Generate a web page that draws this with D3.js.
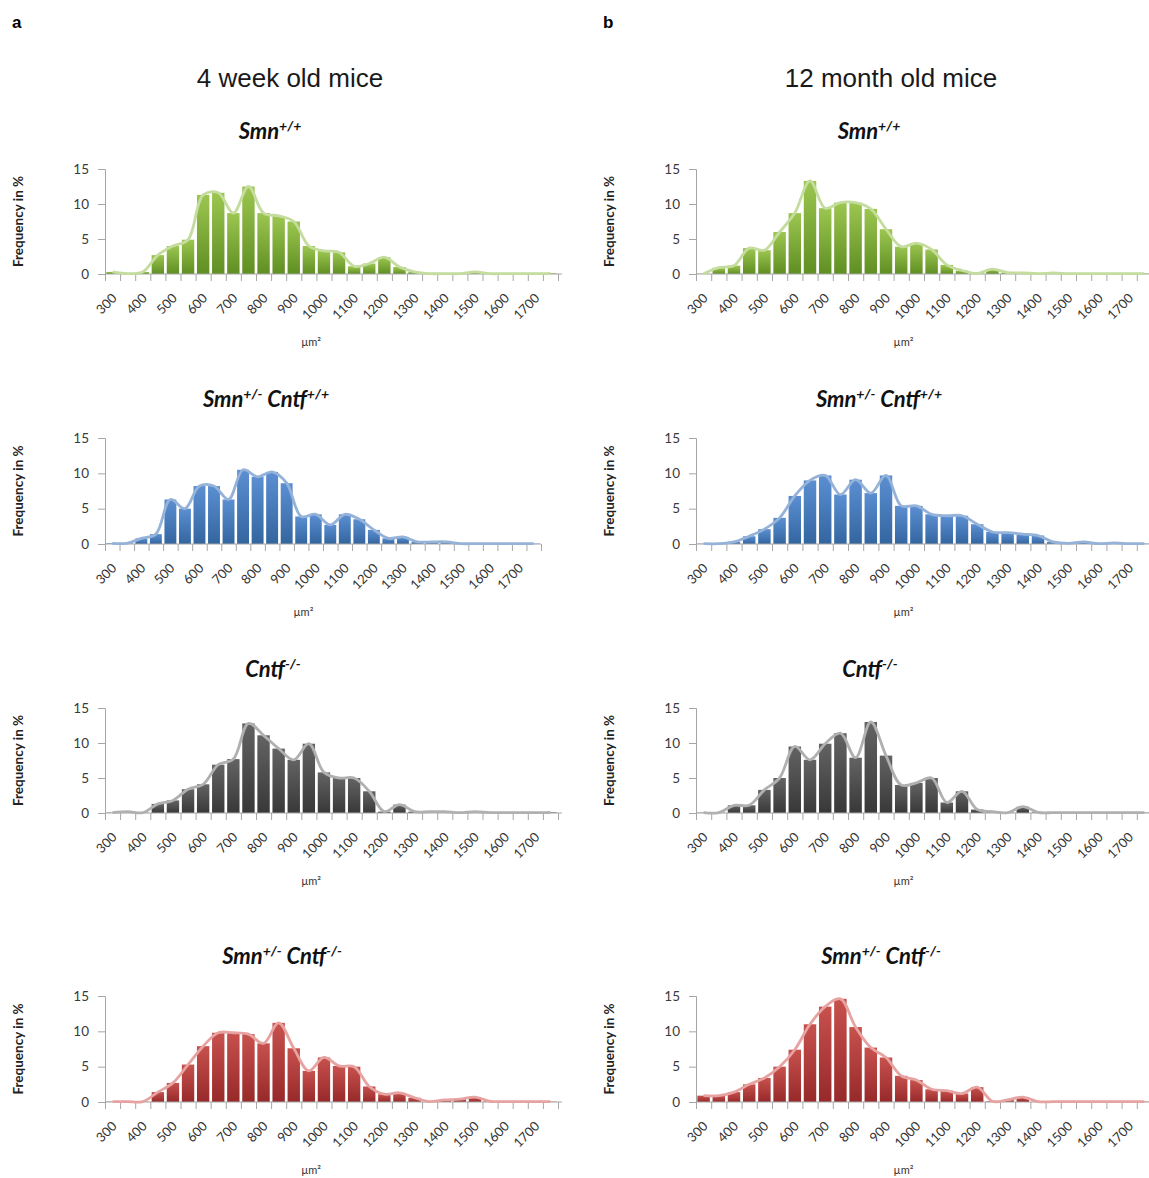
<!DOCTYPE html>
<html>
<head>
<meta charset="utf-8">
<script src="https://cdn.jsdelivr.net/npm/d3@7/dist/d3.min.js"></script>
<style>
  body { margin: 0; background: #fff; }
  text { font-family: Lato, "Open Sans", sans-serif; }
</style>
</head>
<body>
<div id="chart"></div>
<script>

// bin start (µm²), one bar per bin
const bins = ["300","350","400","450","500","550","600","650","700","750",
              "800","850","900","950","1000","1050","1100","1150","1200","1250",
              "1300","1350","1400","1450","1500","1550","1600","1650","1700","1750"];
const tickLabels = ["300","400","500","600","700","800","900","1000",
                    "1100","1200","1300","1400","1500","1600","1700"];
const yTicks = [0, 5, 10, 15];

// frequency in % per bin
const wk4SmnWt   = [0.3,0.05,0.3,2.7,4.0,4.9,11.3,11.6,8.7,12.5,8.7,8.3,7.5,4.0,3.3,3.1,1.1,1.5,2.4,1.0,0.3,0.05,0.05,0.05,0.3,0.05,0.05,0.05,0.05,0.1];
const wk4SmnHet  = [0.1,0.1,0.8,1.4,6.3,5.0,8.2,8.2,6.3,10.5,9.5,10.2,8.6,3.9,4.2,2.7,4.2,3.5,2.0,0.8,1.0,0.3,0.3,0.3,0.05,0.05,0.05,0.05,0.05,0.05];
const wk4CntfKo  = [0.05,0.2,0.05,1.3,1.8,3.4,4.1,6.9,7.7,12.8,11.1,9.2,7.6,9.9,5.8,5.0,5.0,3.1,0.2,1.2,0.2,0.2,0.2,0.05,0.2,0.05,0.05,0.05,0.05,0.1];
const wk4Double  = [0.05,0.05,0.05,1.4,2.7,5.3,7.9,9.8,9.8,9.6,8.3,11.2,7.6,4.4,6.3,5.1,5.0,2.2,1.1,1.3,0.6,0.05,0.3,0.4,0.7,0.1,0.05,0.05,0.05,0.05];
const mo12SmnWt  = [0.05,0.9,1.2,3.7,3.4,6.0,8.7,13.3,9.4,10.2,10.2,9.3,6.4,3.9,4.4,3.5,1.3,0.5,0.1,0.7,0.2,0.15,0.05,0.15,0.05,0.05,0.05,0.05,0.05,0.05];
const mo12SmnHet = [0.05,0.05,0.3,1.1,2.1,3.7,6.8,9.0,9.7,7.0,9.1,7.2,9.7,5.4,5.4,4.2,4.0,4.0,2.8,1.7,1.6,1.4,1.2,0.3,0.1,0.3,0.05,0.15,0.05,0.05];
const mo12CntfKo = [0.05,0.05,1.1,1.1,3.3,5.0,9.5,7.6,9.9,11.4,7.9,13.0,8.2,4.0,4.3,5.0,1.5,3.1,0.5,0.2,0.05,0.9,0.1,0.05,0.05,0.05,0.05,0.05,0.05,0.05];
const mo12Double = [0.9,0.9,1.4,2.5,3.4,5.0,7.4,11.0,13.5,14.6,10.6,7.7,6.3,3.7,3.1,1.8,1.6,1.2,2.1,0.1,0.3,0.7,0.05,0.05,0.05,0.05,0.05,0.05,0.05,0.05];

const palettes = {
    green: { top: "#9cc650", bottom: "#5f8e22", line: "#c4dc9e" },
    blue:  { top: "#5b8fd2", bottom: "#33659f", line: "#95b2d8" },
    gray:  { top: "#636363", bottom: "#383838", line: "#b0b0b0" },
    red:   { top: "#c7514d", bottom: "#97292a", line: "#e6a3a1" }
};


class HistChart {

    constructor(_svg, _data, _opts) {
        this.svg = _svg;
        this.data = _data;
        this.opts = _opts;

        this.initVis();
    }

    initVis() {
        var vis = this;
        var o = vis.opts;

        vis.width = o.w;
        vis.height = o.bottom - o.top;

        vis.g = vis.svg.append("g")
            .attr("transform", "translate(" + o.left + "," + o.top + ")");

        // gradient for the bars
        vis.gradId = "grad-" + o.id;
        var grad = vis.svg.select("defs").append("linearGradient")
            .attr("id", vis.gradId)
            .attr("x1", 0).attr("y1", 0).attr("x2", 0).attr("y2", 1);
        grad.append("stop").attr("offset", "0%").attr("stop-color", o.pal.top);
        grad.append("stop").attr("offset", "100%").attr("stop-color", o.pal.bottom);

        // scales
        vis.x = d3.scaleBand()
            .domain(bins)
            .range([0, vis.width])
            .paddingInner(0.18)
            .paddingOuter(0.09);

        vis.xEdge = d3.scaleLinear()
            .domain([0, bins.length])
            .range([0, vis.width]);

        vis.y = d3.scaleLinear()
            .domain([0, 15])
            .range([vis.height, 0]);

        // title
        var t = vis.svg.append("text")
            .attr("x", o.titleX)
            .attr("y", o.titleY)
            .attr("text-anchor", "middle")
            .style("font-size", "22px")
            .style("font-weight", "bold")
            .style("font-style", "italic")
            .attr("fill", "#111");
        o.title.forEach(function(part) {
            t.append("tspan").text(part[0]);
            t.append("tspan")
                .attr("dy", -8)
                .style("font-size", "14px")
                .text(part[1]);
            t.append("tspan").attr("dy", 8).text(part[2] || "");
        });

        // y label
        vis.svg.append("text")
            .attr("transform", "translate(" + (o.left - 82) + "," + (o.top + vis.height / 2) + ") rotate(-90)")
            .attr("text-anchor", "middle")
            .style("font-size", "13.5px")
            .style("font-weight", "bold")
            .attr("fill", "#222")
            .text("Frequency in %");

        // x label
        vis.svg.append("text")
            .attr("x", o.left + o.w * 0.455)
            .attr("y", o.bottom + 72)
            .attr("text-anchor", "middle")
            .style("font-size", "11px")
            .attr("fill", "#333")
            .text("µm²");

        vis.wrangleData();
    }

    wrangleData() {
        var vis = this;
        vis.displayData = bins.map(function(b, i) {
            return { bin: b, value: vis.data[i] };
        });
        vis.updateVis();
    }

    updateVis() {
        var vis = this;
        var o = vis.opts;

        vis.g.selectAll(".bar")
            .data(vis.displayData)
            .enter().append("rect")
            .attr("class", "bar")
            .attr("x", d => vis.x(d.bin))
            .attr("width", vis.x.bandwidth())
            .attr("y", d => vis.y(d.value))
            .attr("height", d => vis.height - vis.y(d.value))
            .attr("fill", "url(#" + vis.gradId + ")");

        // axes
        var yAxis = d3.axisLeft(vis.y)
            .tickValues(yTicks)
            .tickSize(7)
            .tickPadding(9);
        var yg = vis.g.append("g").attr("class", "y-axis").call(yAxis);
        yg.selectAll("path, line").attr("stroke", "#a6a6a6");
        yg.selectAll("text")
            .style("font-size", "13.5px")
            .attr("font-family", null)
            .attr("fill", "#3a3a3a");

        var edges = d3.axisBottom(vis.xEdge)
            .tickValues(d3.range(0, bins.length + 1))
            .tickSize(7)
            .tickFormat("");
        var eg = vis.g.append("g")
            .attr("transform", "translate(0," + vis.height + ")")
            .call(edges);
        eg.selectAll("path, line").attr("stroke", "#a6a6a6");
        eg.select("path").attr("d", "M0,0H" + (vis.width + o.extra));

        var xAxis = d3.axisBottom(vis.x)
            .tickValues(tickLabels)
            .tickSize(0);
        var xg = vis.g.append("g")
            .attr("transform", "translate(0," + vis.height + ")")
            .call(xAxis);
        xg.select(".domain").remove();
        xg.selectAll("text")
            .attr("y", 0)
            .attr("dy", 0)
            .attr("font-family", null)
            .style("font-size", "13px")
            .attr("fill", "#333")
            .attr("text-anchor", "end")
            .attr("transform", "translate(5,25) rotate(-45)");

        // smoothed overlay line
        var line = d3.line()
            .x(d => vis.x(d.bin) + vis.x.bandwidth() / 2)
            .y(d => vis.y(d.value))
            .curve(d3.curveCatmullRom);

        vis.g.append("path")
            .datum(vis.displayData)
            .attr("d", line)
            .attr("fill", "none")
            .attr("stroke", o.pal.line)
            .attr("stroke-width", 2.8);
    }
}


var svg = d3.select("#chart").append("svg")
    .attr("width", 1149)
    .attr("height", 1178);
svg.append("defs");

svg.append("text").attr("x", 12).attr("y", 28).text("a")
    .style("font-size", "17px").style("font-weight", "bold").style("font-family", "Liberation Sans");
svg.append("text").attr("x", 603).attr("y", 28).text("b")
    .style("font-size", "17px").style("font-weight", "bold").style("font-family", "Liberation Sans");

svg.append("text").attr("x", 290).attr("y", 87).attr("text-anchor", "middle")
    .style("font-size", "26px").style("font-family", "Liberation Sans").attr("fill", "#1a1a1a")
    .text("4 week old mice");
svg.append("text").attr("x", 891).attr("y", 87).attr("text-anchor", "middle")
    .style("font-size", "26px").style("font-family", "Liberation Sans").attr("fill", "#1a1a1a")
    .text("12 month old mice");

const tWt = [["Smn", "+/+"]];
const tHet = [["Smn", "+/-", " "], ["Cntf", "+/+"]];
const tKo = [["Cntf", "-/-"]];
const tDbl = [["Smn", "+/-", " "], ["Cntf", "-/-"]];

var panels = [
    { id: "a1", data: wk4SmnWt,   pal: palettes.green, title: tWt,  titleX: 270, titleY: 139, left: 105, w: 453, top: 169, bottom: 274, extra: 4 },
    { id: "a2", data: wk4SmnHet,  pal: palettes.blue,  title: tHet, titleX: 266, titleY: 407, left: 105, w: 436, top: 438, bottom: 544, extra: 0 },
    { id: "a3", data: wk4CntfKo,  pal: palettes.gray,  title: tKo,  titleX: 273, titleY: 677, left: 105, w: 453, top: 708, bottom: 813, extra: 4 },
    { id: "a4", data: wk4Double,  pal: palettes.red,   title: tDbl, titleX: 282, titleY: 964, left: 105, w: 453, top: 996, bottom: 1102, extra: 4 },
    { id: "b1", data: mo12SmnWt,  pal: palettes.green, title: tWt,  titleX: 869, titleY: 139, left: 696, w: 456, top: 169, bottom: 274, extra: 0 },
    { id: "b2", data: mo12SmnHet, pal: palettes.blue,  title: tHet, titleX: 879, titleY: 407, left: 696, w: 456, top: 438, bottom: 544, extra: 0 },
    { id: "b3", data: mo12CntfKo, pal: palettes.gray,  title: tKo,  titleX: 870, titleY: 677, left: 696, w: 456, top: 708, bottom: 813, extra: 0 },
    { id: "b4", data: mo12Double, pal: palettes.red,   title: tDbl, titleX: 881, titleY: 964, left: 696, w: 456, top: 996, bottom: 1102, extra: 0 }
];

panels.forEach(function(p) {
    new HistChart(svg, p.data, p);
});

</script>
</body>
</html>
